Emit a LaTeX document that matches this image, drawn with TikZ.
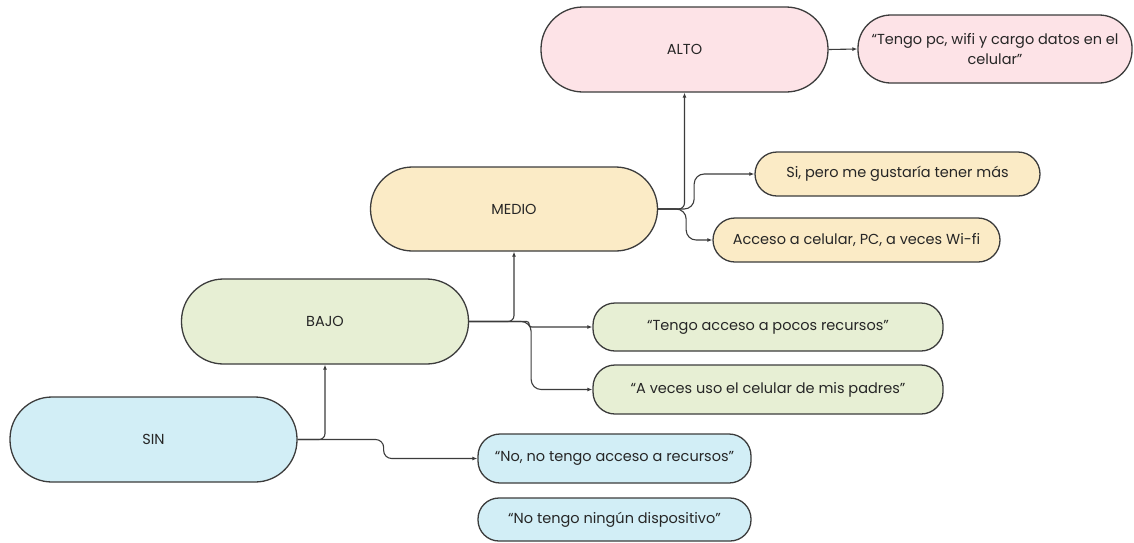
\documentclass[tikz,border=0pt]{standalone}
\usepackage{fontspec}
\setmainfont{Poppins}
\usetikzlibrary{arrows.meta}
\definecolor{pinkf}{HTML}{FDE3E7}
\definecolor{yelf}{HTML}{FBEBC6}
\definecolor{grnf}{HTML}{E7EFD4}
\definecolor{bluf}{HTML}{D2EEF6}
\definecolor{edgec}{HTML}{3C3C3C}
\definecolor{txt}{HTML}{262626}
\begin{document}
\begin{tikzpicture}[x=1pt,y=-1pt,
 box/.style={draw=edgec, line width=1.3pt, text=txt, inner sep=0pt, font=\fontsize{14.5}{20}\selectfont, align=center},
 big/.style={box, minimum width=287pt, minimum height=85pt, rounded corners=42pt},
 small/.style={box, rounded corners=22pt},
 conn/.style={draw=edgec, line width=1.1pt, -{Latex[length=5pt,width=4pt]}},
]
\useasboundingbox (0,0) rectangle (1134,542);
\fill[white] (0,0) rectangle (1134,542);

% main levels
\node[big, fill=bluf] (sin) at (153.5,439.5) {SIN};
\node[big, fill=grnf] (bajo) at (325,321.5) {BAJO};
\node[big, fill=yelf, minimum height=84pt] (medio) at (514,209) {MEDIO};
\node[big, fill=pinkf] (alto) at (684.5,49.5) {ALTO};

% answers
\node[small, fill=pinkf, minimum width=274pt, minimum height=68pt, rounded corners=33pt] (altor) at (995,49) {“Tengo pc, wifi y cargo datos en el\\celular”};
\node[small, fill=yelf, minimum width=285pt, minimum height=44pt] (sipero) at (897.5,174) {Si, pero me gustaría tener más};
\node[small, fill=yelf, minimum width=287pt, minimum height=44pt] (acceso) at (856.5,240) {Acceso a celular, PC, a veces Wi-fi};
\node[small, fill=grnf, minimum width=350pt, minimum height=48pt] (tengo) at (768,327) {“Tengo acceso a pocos recursos”};
\node[small, fill=grnf, minimum width=350pt, minimum height=49pt] (aveces) at (768,389.5) {“A veces uso el celular de mis padres”};
\node[small, fill=bluf, minimum width=273pt, minimum height=49pt] (nono) at (614.5,458.5) {“No, no tengo acceso a recursos”};
\node[small, fill=bluf, minimum width=273pt, minimum height=43pt, rounded corners=21pt] (ningun) at (614.5,519.5) {“No tengo ningún dispositivo”};

% connectors
\draw[conn, rounded corners=6pt] (sin.east) -| (bajo.south);
\draw[conn, rounded corners=8pt] (sin.east) -- ++(86,0) |- (nono.west);
\draw[conn, rounded corners=6pt] (bajo.east) -| (medio.south);
\draw[conn, rounded corners=2.5pt] (bajo.east) -- ++(60,0) |- (tengo.west);
\draw[conn, rounded corners=10pt] (bajo.east) -- ++(62,0) |- (aveces.west);
\draw[conn, rounded corners=6pt] (medio.east) -| (alto.south);
\draw[conn, rounded corners=10pt] (medio.east) -- ++(36,0) |- (sipero.west);
\draw[conn, rounded corners=10pt] (medio.east) -- ++(28,0) |- (acceso.west);
\draw[conn] (alto.east) -- (altor.west);
\end{tikzpicture}
\end{document}
